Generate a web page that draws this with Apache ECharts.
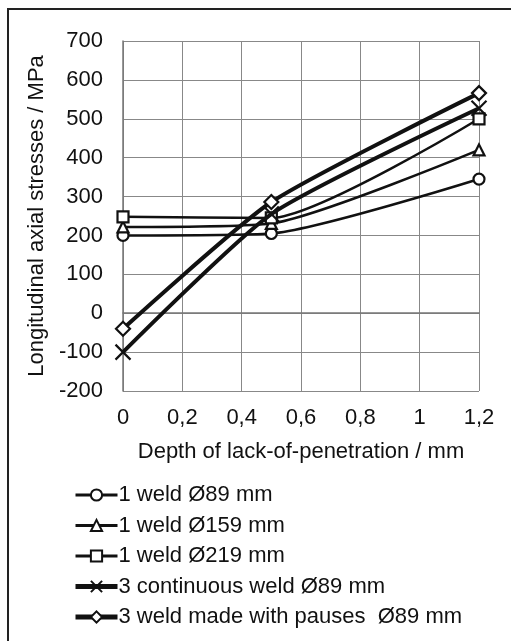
<!DOCTYPE html>
<html><head><meta charset="utf-8">
<script src="https://cdn.jsdelivr.net/npm/echarts@6/dist/echarts.min.js"></script>
<style>html,body{margin:0;padding:0;background:#fff}#main{width:511px;height:641px}</style>
</head><body><div id="main"></div>
<script>
var depth = [0, 0.5, 1.2];
var names = ['1 weld Ø89 mm', '1 weld Ø159 mm', '1 weld Ø219 mm', '3 continuous weld Ø89 mm', '3 weld made with pauses  Ø89 mm'];
var weld89 = [200, 205, 345];
var weld159 = [222, 231, 420];
var weld219 = [248, 245, 500];
var cont89 = [-100, 255, 527];
var pause89 = [-40, 286, 566];
var values = [weld89, weld159, weld219, cont89, pause89];

var crossPath = 'path://M0,0L10,10M10,0L0,10';
var symbols = ['circle', 'triangle', 'rect', crossPath, 'diamond'];
var sizes = [11, 11, 11, 15, 14];
var widths = [2.5, 2.5, 2.5, 4, 4];

var myChart = echarts.init(document.getElementById('main'));
var font = 'Liberation Sans, Arial, sans-serif';
var series = [];
var legendData = [];
for (var i = 0; i < names.length; i++) {
    series.push({
        name: names[i],
        type: 'line',
        smooth: 0.2,
        symbol: symbols[i],
        symbolSize: sizes[i],
        showAllSymbol: true,
        z: 2 + i,
        lineStyle: { color: '#111', width: widths[i] },
        itemStyle: { color: i == 3 ? '#111' : '#fff', borderColor: '#111', borderWidth: 2.2 },
        data: depth.map(function (d, j) { return [d, values[i][j]]; })
    });
    legendData.push({
        name: names[i],
        lineStyle: { width: i < 3 ? 3 : 5, color: '#111' },
        itemStyle: { borderWidth: 2, borderColor: '#111', color: i == 3 ? '#111' : '#fff' }
    });
}
myChart.setOption({
    animation: false,
    graphic: [{
        type: 'rect', shape: { x: 8, y: 9, width: 540, height: 660 },
        style: { fill: 'none', stroke: '#222', lineWidth: 2 }, z: 0
    }],
    grid: { left: 123, top: 41, width: 356, height: 350 },
    xAxis: {
        type: 'value', min: 0, max: 1.2, interval: 0.2,
        name: 'Depth of lack-of-penetration / mm', nameLocation: 'middle', nameGap: 50,
        nameTextStyle: { fontFamily: font, fontSize: 22, color: '#111' },
        axisLine: { lineStyle: { color: '#777', width: 1.5 } },
        axisTick: { show: false },
        axisLabel: { fontFamily: font, fontSize: 22, color: '#111', margin: 16,
            formatter: function (v) { return String(+v.toFixed(1)).replace('.', ','); } },
        splitLine: { lineStyle: { color: '#888', width: 1 } }
    },
    yAxis: {
        type: 'value', min: -200, max: 700, interval: 100,
        name: 'Longitudinal axial stresses / MPa', nameLocation: 'middle', nameGap: 75,
        nameTextStyle: { fontFamily: font, fontSize: 22, color: '#111' },
        axisLine: { show: true, lineStyle: { color: '#777', width: 1.5 } },
        axisTick: { show: false },
        axisLabel: { fontFamily: font, fontSize: 22, color: '#111', margin: 20 },
        splitLine: { lineStyle: { color: '#888', width: 1 } }
    },
    legend: {
        orient: 'vertical', left: 68, top: 479, itemGap: 8.5,
        itemWidth: 42, itemHeight: 14,
        textStyle: { fontFamily: font, fontSize: 22, color: '#111', padding: [0, 0, 0, -4] },
        data: legendData
    },
    series: series
});
</script></body></html>
